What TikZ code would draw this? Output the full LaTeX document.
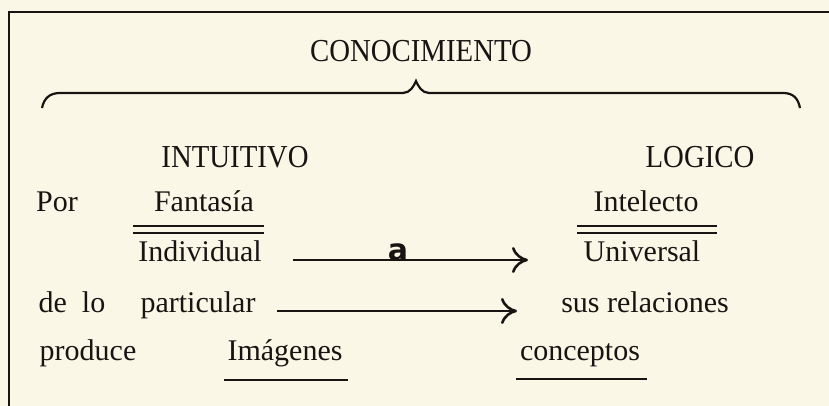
\documentclass[tikz,border=0pt]{standalone}
\usepackage{fontspec}
\setmainfont{Liberation Serif}
\setsansfont{DejaVu Sans}
\usetikzlibrary{arrows.meta, positioning}
\definecolor{paper}{RGB}{251,247,231}
\definecolor{ink}{RGB}{24,20,18}

\begin{document}
\begin{tikzpicture}[x=0.5pt, y=-0.5pt, color=ink,
        txt/.style={anchor=base, inner sep=0pt, font=\fontsize{15}{17}\selectfont},
        caps/.style={anchor=base, inner sep=0pt, xscale=0.9, font=\fontsize{16}{18}\selectfont},
        handa/.style={anchor=base, inner sep=0pt, font=\fontsize{15}{18}\sffamily\bfseries},
        arr/.style={line width=1.1pt, -{To[length=8pt, width=13pt, line width=1.3pt]}},
        rule/.style={line width=1pt}]
        \fill[paper] (0,0) rectangle (829,406);
        \useasboundingbox (0,0) rectangle (829,406);
        \draw[line width=1.3pt] (9,406) -- (9,12) -- (829,12);

        \node[caps] (title) at (421,62) {CONOCIMIENTO};
        \draw[line width=1.1pt] (42,108) .. controls (44,98) and (50,93) .. (60,93) -- (403,93)
            .. controls (410,93) and (414,86) .. (416,81)
            .. controls (418,86) and (422,93) .. (429,93) -- (783,93)
            .. controls (793,93) and (798,98) .. (800,108);
        \node[caps] (intui) at (235,168) {INTUITIVO};
        \node[caps] (logic) at (700,168) {LOGICO};

        \node[txt] (por) at (57,212) {Por};
        \node[txt] (fant) at (204,212) {Fantasía};
        \node[txt] (intel) at (646,212) {Intelecto};
        \draw[rule] (133,226) -- (264,226) (133,233) -- (264,233);
        \draw[rule] (577,226) -- (717,226) (577,233) -- (717,233);

        \node[txt] (indiv) at (200,262) {Individual};
        \node[txt] (univ) at (642,262) {Universal};
        \coordinate (a1) at (293,260);
        \coordinate (b1) at (528,260);
        \draw[arr] (a1) -- (b1);
        \node[handa] (hand) at (398,260) {a};

        \node[txt] (delo) at (72,312) {de\enspace lo};
        \node[txt] (partic) at (198,312) {particular};
        \node[txt] (relac) at (645,312) {sus relaciones};
        \coordinate (a2) at (277,311);
        \coordinate (b2) at (517,311);
        \draw[arr] (a2) -- (b2);

        \node[txt] (produ) at (88,360) {produce};
        \node[txt] (imag) at (285,360) {Imágenes};
        \node[txt] (concep) at (580,360) {conceptos};
        \draw[rule] (224,380) -- (348,380);
        \draw[rule] (516,379) -- (647,379);
\end{tikzpicture}
\end{document}
